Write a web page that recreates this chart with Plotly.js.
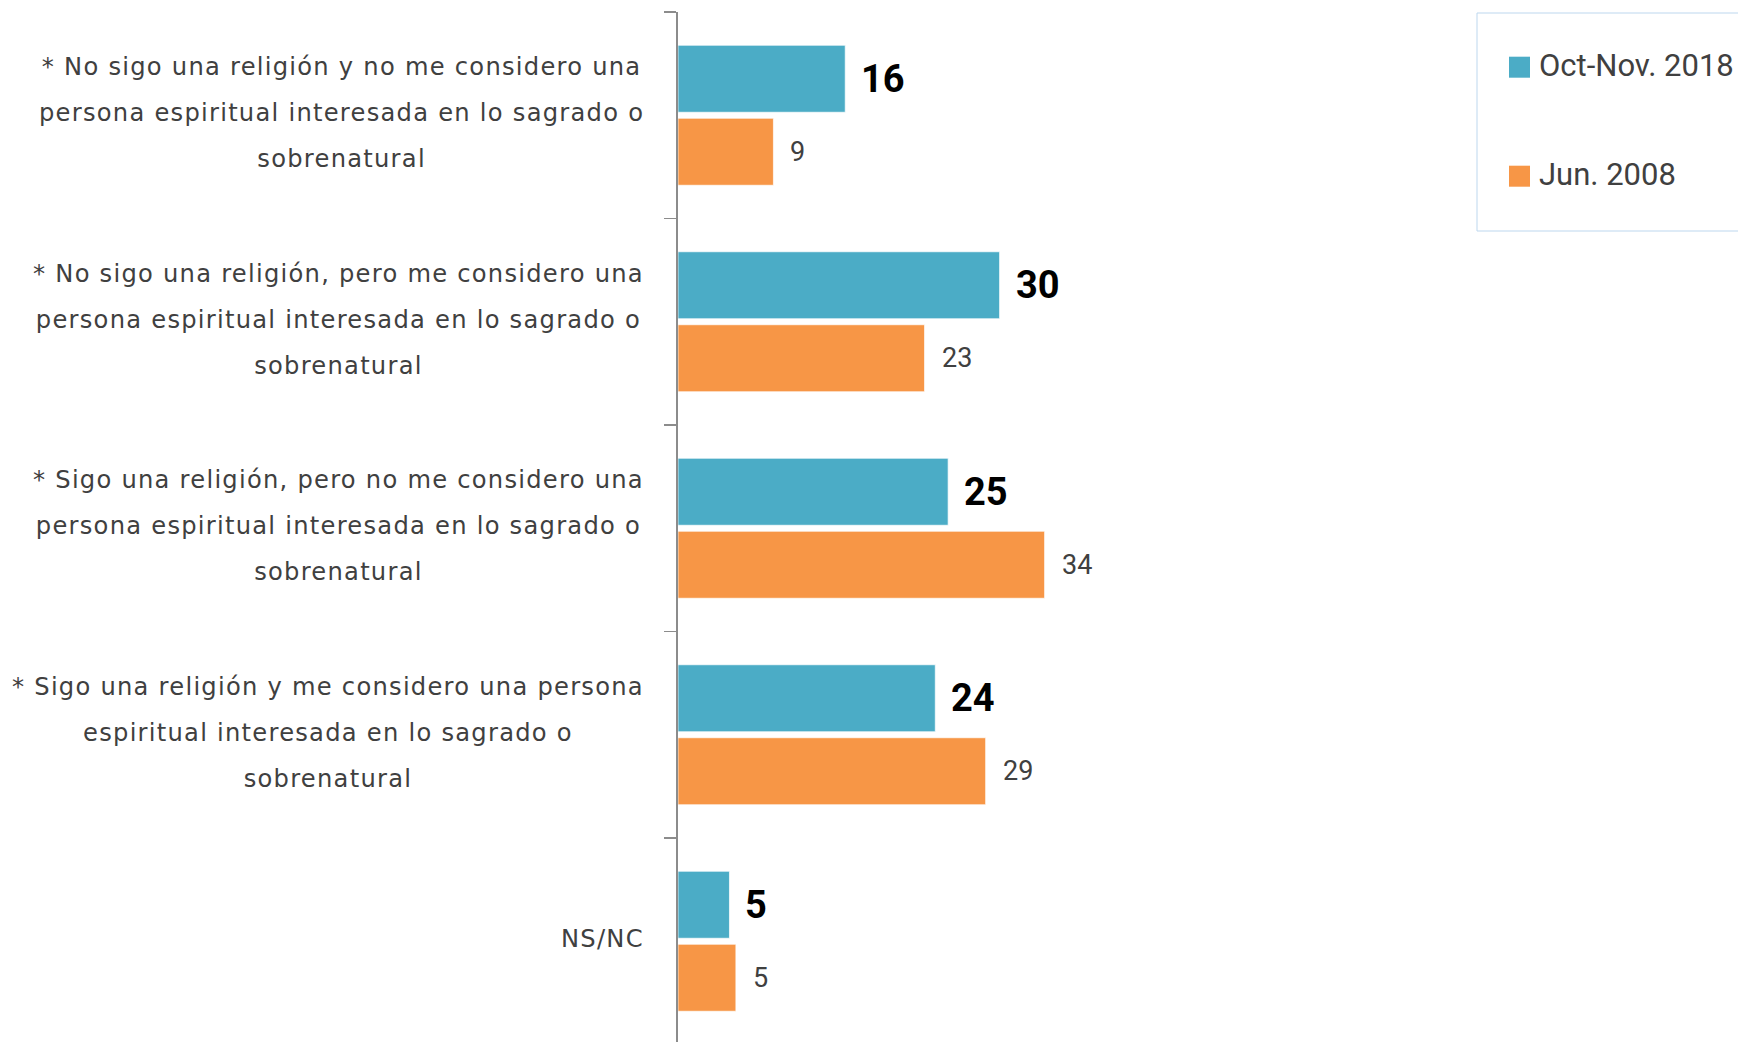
<!DOCTYPE html>
<html>
<head>
<meta charset="utf-8">
<script src="https://cdn.plot.ly/plotly-3.0.1.min.js"></script>
<style>html,body{margin:0;padding:0;overflow:hidden;background:#fff}</style>
</head>
<body>
<div id="chart" style="width:1738px;height:1042px"></div>
<script>
// ---- data ----
const categories = [
  "* No sigo una religión y no me considero una<br>persona espiritual interesada en lo sagrado o<br>sobrenatural",
  "* No sigo una religión, pero me considero una<br>persona espiritual interesada en lo sagrado o<br>sobrenatural",
  "* Sigo una religión, pero no me considero una<br>persona espiritual interesada en lo sagrado o<br>sobrenatural",
  "* Sigo una religión y me considero una persona<br>espiritual interesada en lo sagrado o<br>sobrenatural",
  "NS/NC"
];
const seriesNames = ["Oct-Nov. 2018", "Jun. 2008"];
const values2018 = [15.6, 30.0, 25.2, 24.0, 4.8];
const values2008 = [8.9, 23.0, 34.2, 28.7, 5.4];
const labels2018 = ["16", "30", "25", "24", "5"];
const labels2008 = ["9", "23", "34", "29", "5"];
const colors = ["#4BACC6", "#F79646"];

// ---- layout geometry ----
const W = 1738, H = 1042;
const L = 678, R = 0, T = 12, B = 0;
const plotW = W - L - R, plotH = H - T - B;
const catPx = 206.5;
const bargap = 0.293, bargroupgap = 0.082;
const xMax = plotW / 10.72;
const yBottom = -0.5 + plotH / catPx;
const slotPx = (1 - bargap) * catPx / 2;

const FONT = "Roboto, 'Noto Sans', sans-serif";
const LABEL_FONT = "'DejaVu Sans', Roboto, sans-serif";
const labelSize = 24.2;
const lineSpacingSize = 35.4;

function px2px(x) { return (x - L) / plotW; }
function py2py(y) { return 1 - (y - T) / plotH; }

const traces = [
  {type: "bar", orientation: "h", name: seriesNames[0], x: values2018, y: categories,
   marker: {color: colors[0], line: {color: "rgba(255,255,255,0.7)", width: 1}},
   hoverinfo: "skip", showlegend: false},
  {type: "bar", orientation: "h", name: seriesNames[1], x: values2008, y: categories,
   marker: {color: colors[1], line: {color: "rgba(255,255,255,0.7)", width: 1}},
   hoverinfo: "skip", showlegend: false}
];

const annotations = [];
categories.forEach((c, i) => {
  const lines = c.split("<br>").map(s =>
    '<span style="font-size:' + labelSize + 'px;letter-spacing:1.25px">' + s + '</span>');
  annotations.push({
    xref: "paper", yref: "y", x: 0, y: i, xanchor: "right", yanchor: "middle",
    xshift: -32, yshift: 2, align: "center", showarrow: false,
    text: lines.join("<br>"),
    font: {family: LABEL_FONT, size: lineSpacingSize, color: "#404040"}
  });
  annotations.push({
    xref: "x", yref: "y", x: values2018[i], y: i, xanchor: "left", yanchor: "middle",
    xshift: 14, yshift: slotPx / 2, showarrow: false, text: "<b>" + labels2018[i] + "</b>",
    font: {family: FONT, size: 38, color: "#000000"}
  });
  annotations.push({
    xref: "x", yref: "y", x: values2008[i], y: i, xanchor: "left", yanchor: "middle",
    xshift: 15, yshift: -slotPx / 2, showarrow: false, text: labels2008[i],
    font: {family: FONT, size: 27, color: "#404040"}
  });
});

// legend (drawn as box, swatches and text)
const legendItems = [
  {name: seriesNames[0], color: colors[0], cy: 67.2},
  {name: seriesNames[1], color: colors[1], cy: 176.2}
];
const shapes = [{
  type: "rect", xref: "paper", yref: "paper",
  x0: px2px(1477), x1: px2px(1745), y0: py2py(231), y1: py2py(13),
  line: {color: "#BDD7EE", width: 1}, fillcolor: "#ffffff", layer: "above"
}];
legendItems.forEach(it => {
  shapes.push({
    type: "rect", xref: "paper", yref: "paper",
    x0: px2px(1509), x1: px2px(1530), y0: py2py(it.cy + 10.5), y1: py2py(it.cy - 10.5),
    line: {width: 0}, fillcolor: it.color, layer: "above"
  });
  annotations.push({
    xref: "paper", yref: "paper", x: px2px(1537), y: py2py(it.cy - 2),
    xanchor: "left", yanchor: "middle", showarrow: false, text: it.name,
    font: {family: FONT, size: 31, color: "#404040"}
  });
});

const layout = {
  width: W, height: H,
  margin: {l: L, r: R, t: T, b: B, pad: 0},
  paper_bgcolor: "#ffffff", plot_bgcolor: "#ffffff",
  barmode: "group", bargap: bargap, bargroupgap: bargroupgap,
  showlegend: false,
  xaxis: {range: [0, xMax], visible: false, fixedrange: true},
  yaxis: {
    type: "category", range: [yBottom, -0.5], showticklabels: false,
    showline: true, linecolor: "#8C8C8C", linewidth: 2,
    ticks: "outside", tickson: "boundaries", ticklen: 12, tickwidth: 1.5, tickcolor: "#8C8C8C",
    showgrid: false, zeroline: false, fixedrange: true
  },
  annotations: annotations,
  shapes: shapes,
  font: {family: FONT}
};

Plotly.newPlot("chart", traces, layout, {displayModeBar: false, staticPlot: true});
</script>
</body>
</html>
